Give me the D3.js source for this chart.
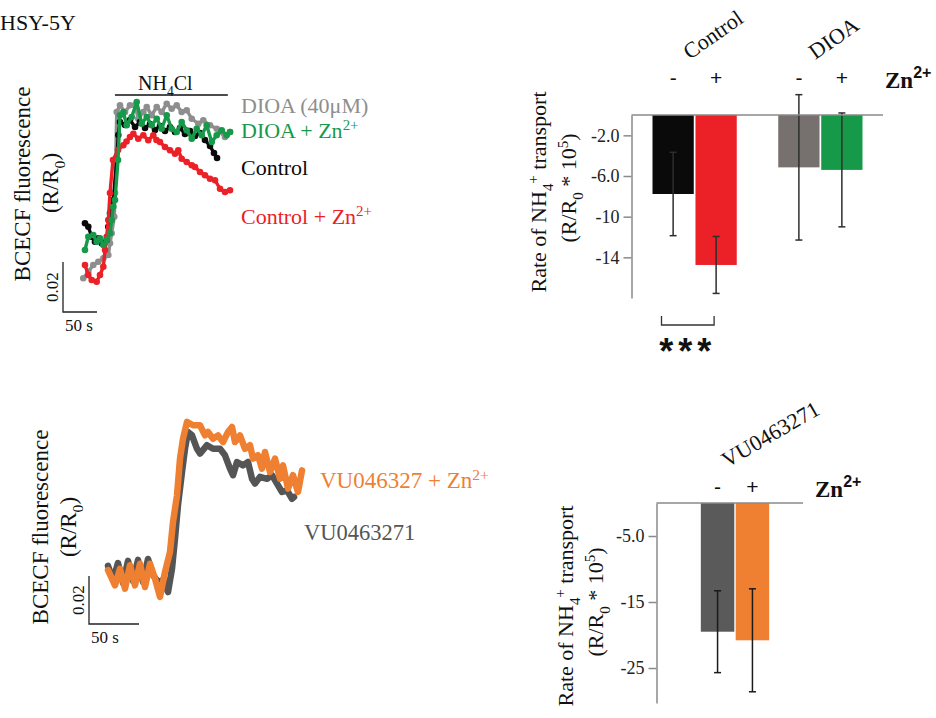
<!DOCTYPE html>
<html>
<head>
<meta charset="utf-8">
<script src="https://cdn.jsdelivr.net/npm/d3@7"></script>
<style>
    body { margin: 0; background: #fff; }
    svg { display: block; font-family: "Liberation Serif", "Times New Roman", serif; }
</style>
</head>
<body>
<div id="main"></div>
<script>
// ---- traces, top panel: [time (s), R/R0] ----
const controlTrace = [
    [2.9, 1.0239], [7.8, 1.0225], [12.8, 1.0185], [17.6, 1.0165], [22.5, 1.0179], [27.5, 1.0159],
    [34.9, 1.0172], [37.2, 1.0225], [39.7, 1.0279], [44.6, 1.0332], [49.6, 1.0492], [51.9, 1.0592],
    [54.4, 1.0644], [61.8, 1.0632], [69.1, 1.0652], [76.5, 1.0624], [83.8, 1.0644], [91.2, 1.0620],
    [98.5, 1.0636], [105.9, 1.0612], [113.2, 1.0628], [120.6, 1.0608], [127.9, 1.0624], [135.3, 1.0604],
    [142.6, 1.0620], [150.0, 1.0596], [157.4, 1.0608], [164.7, 1.0588], [172.1, 1.0600], [179.4, 1.0572],
    [186.8, 1.0548], [192.6, 1.0520], [197.1, 1.0500]
];
const controlZnTrace = [
    [2.9, 1.0072], [7.8, 1.0032], [12.8, 1.0012], [20.1, 1.0005], [25.0, 1.0032], [29.9, 1.0065],
    [32.4, 1.0132], [34.9, 1.0185], [37.2, 1.0252], [39.7, 1.0360], [44.1, 1.0492], [51.5, 1.0532],
    [59.3, 1.0551], [64.0, 1.0566], [69.1, 1.0584], [74.0, 1.0597], [81.3, 1.0577], [88.7, 1.0591],
    [96.0, 1.0571], [103.4, 1.0591], [108.0, 1.0572], [113.2, 1.0564], [120.6, 1.0544], [127.9, 1.0531],
    [135.3, 1.0517], [140.1, 1.0531], [145.1, 1.0497], [152.5, 1.0484], [159.9, 1.0471], [164.7, 1.0464],
    [172.1, 1.0444], [179.4, 1.0431], [186.8, 1.0417], [194.1, 1.0411], [201.5, 1.0377], [208.8, 1.0364],
    [216.2, 1.0371]
];
const dioaTrace = [
    [0.4, 1.0019], [7.8, 1.0045], [15.1, 1.0072], [22.5, 1.0085], [29.9, 1.0099], [37.2, 1.0112],
    [39.7, 1.0159], [42.2, 1.0199], [46.0, 1.0265], [47.1, 1.0360], [49.6, 1.0684], [54.4, 1.0711],
    [61.8, 1.0684], [69.1, 1.0711], [76.5, 1.0711], [81.3, 1.0657], [88.7, 1.0684], [93.7, 1.0704],
    [101.0, 1.0671], [108.4, 1.0704], [115.7, 1.0684], [123.1, 1.0717], [130.4, 1.0697], [137.8, 1.0711],
    [145.1, 1.0684], [152.5, 1.0691], [159.9, 1.0657], [169.6, 1.0637], [176.9, 1.0651], [186.8, 1.0631],
    [196.6, 1.0617], [208.8, 1.0584], [216.2, 1.0604]
];
const dioaZnTrace = [
    [2.9, 1.0132], [7.8, 1.0185], [15.1, 1.0192], [20.1, 1.0165], [25.0, 1.0179], [29.9, 1.0152],
    [34.9, 1.0172], [39.7, 1.0199], [42.2, 1.0252], [44.6, 1.0305], [47.1, 1.0332], [51.5, 1.0492],
    [54.4, 1.0671], [59.3, 1.0684], [64.3, 1.0631], [71.6, 1.0664], [79.0, 1.0724], [86.3, 1.0637],
    [93.7, 1.0664], [101.0, 1.0631], [108.4, 1.0657], [115.7, 1.0617], [123.1, 1.0671], [130.4, 1.0617],
    [137.8, 1.0604], [145.1, 1.0644], [152.5, 1.0611], [159.9, 1.0577], [167.2, 1.0617], [174.6, 1.0591],
    [181.9, 1.0631], [189.3, 1.0564], [196.6, 1.0591], [204.0, 1.0611], [211.3, 1.0591], [216.2, 1.0604]
];
const nh4Span = [47, 213];

// ---- traces, bottom panel ----
const vuTrace = [
    [0, 1.0142], [5, 1.0083], [10, 1.0154], [15, 1.0071], [20, 1.0163], [25, 1.0079], [30, 1.0167],
    [35, 1.0075], [40, 1.0171], [45, 1.0104], [50, 1.0075], [55, 1.0083], [60, 1.0033], [64, 1.0130],
    [67, 1.0255], [70, 1.0395], [74, 1.0533], [77, 1.0630], [80, 1.0700], [84, 1.0686], [89, 1.0630],
    [92, 1.0610], [99, 1.0645], [105, 1.0630], [112, 1.0630], [117, 1.0603], [122, 1.0547], [125, 1.0520],
    [129, 1.0575], [135, 1.0561], [140, 1.0575], [144, 1.0505], [147, 1.0485], [152, 1.0513], [159, 1.0505],
    [164, 1.0520], [169, 1.0485], [174, 1.0450], [179, 1.0457], [184, 1.0422], [186, 1.0429]
];
const vuZnTrace = [
    [0, 1.0124], [7, 1.0061], [12, 1.0130], [17, 1.0047], [22, 1.0145], [27, 1.0061], [32, 1.0151],
    [37, 1.0054], [42, 1.0151], [47, 1.0089], [52, 1.0013], [57, 1.0117], [62, 1.0200], [65, 1.0325],
    [69, 1.0436], [72, 1.0589], [75, 1.0672], [79, 1.0742], [85, 1.0728], [92, 1.0728], [97, 1.0686],
    [100, 1.0700], [105, 1.0672], [110, 1.0686], [115, 1.0658], [120, 1.0700], [124, 1.0721], [127, 1.0658],
    [132, 1.0686], [137, 1.0630], [142, 1.0645], [145, 1.0589], [150, 1.0603], [154, 1.0547], [157, 1.0617],
    [162, 1.0533], [167, 1.0589], [172, 1.0505], [175, 1.0561], [180, 1.0464], [185, 1.0520], [190, 1.0450],
    [194, 1.0540]
];

// ---- bar charts ----
const topGroups = ["Control", "DIOA"];
const znLevels = ["-", "+"];
const topMeans = [-7.77, -14.75, -5.15, -5.4];
const topErrors = [4.1, 2.8, 7.15, 5.6];
const topTicks = [-2, -6, -10, -14];
const topTickLabels = ["-2.0", "-6.0", "-10", "-14"];

const bottomGroups = ["VU0463271"];
const bottomMeans = [-19.5, -20.8];
const bottomErrors = [6.2, 7.8];
const bottomTicks = [-5, -15, -25];
const bottomTickLabels = ["-5.0", "-15", "-25"];

const topColors = ["#0a0a0a", "#ec2027", "#76716f", "#17994a"];
const bottomColors = ["#5a5a5a", "#ef7f31"];

const serif = "Liberation Serif, Times New Roman, serif";
const sans = "Liberation Sans, Arial, sans-serif";

const svg = d3.select("#main").append("svg")
    .attr("width", 936)
    .attr("height", 718);

// text with sub/superscripts, parts = [[string, "sub"|"sup"|null], ...]
function rich(sel, parts, size) {
    let shift = 0;
    parts.forEach(([s, kind]) => {
        const target = kind === "sub" ? size * 0.3 : kind === "sup" ? -size * 0.36 : 0;
        const t = sel.append("tspan").attr("dy", target - shift).text(s);
        if (kind) t.style("font-size", (size * 0.68) + "px");
        shift = target;
    });
    return sel;
}

function label(x, y, size, color, parts, rotate) {
    const t = svg.append("text")
        .attr("x", x).attr("y", y)
        .attr("font-family", serif)
        .style("font-size", size + "px")
        .attr("fill", color);
    if (rotate) t.attr("transform", `rotate(${rotate},${x},${y})`).attr("text-anchor", "middle");
    return rich(t, parts, size);
}

function drawTrace(x, y, data, color, width, dots) {
    const line = d3.line().x(d => x(d[0])).y(d => y(d[1]));
    svg.append("path")
        .datum(data)
        .attr("d", line)
        .attr("fill", "none")
        .attr("stroke", color)
        .attr("stroke-width", width)
        .attr("stroke-linejoin", "round")
        .attr("stroke-linecap", "round");
    if (dots) {
        svg.append("g").selectAll("circle")
            .data(data)
            .join("circle")
            .attr("cx", d => x(d[0]))
            .attr("cy", d => y(d[1]))
            .attr("r", 3.3)
            .attr("fill", color);
    }
}

function scaleBar(x, y, ox, oy) {
    const w = x(50) - x(0);
    const h = y(1) - y(1.02);
    svg.append("path")
        .attr("d", `M${ox},${oy - h}V${oy}H${ox + w}`)
        .attr("fill", "none")
        .attr("stroke", "#222")
        .attr("stroke-width", 1.3);
    label(ox - 5, oy - h / 2, 17, "#111", [["0.02", null]], -90);
    label(ox + 2, oy + 19, 17, "#111", [["50 s", null]]);
}

// ---- top-left traces ----
{
    const x = d3.scaleLinear().domain([0, 50]).range([83, 117]);
    const y = d3.scaleLinear().domain([1, 1.02]).range([283, 233]);

    drawTrace(x, y, dioaTrace, "#8e8e8e", 3.4, true);
    drawTrace(x, y, controlTrace, "#0a0a0a", 3.4, true);
    drawTrace(x, y, controlZnTrace, "#ec2027", 3.4, true);
    drawTrace(x, y, dioaZnTrace, "#17994a", 3.4, true);

    svg.append("line")
        .attr("x1", x(nh4Span[0])).attr("x2", x(nh4Span[1]))
        .attr("y1", 95).attr("y2", 95)
        .attr("stroke", "#111").attr("stroke-width", 1.5);
    label(138, 90, 20, "#111", [["NH", null], ["4", "sub"], ["Cl", null]]);

    scaleBar(x, y, 63, 312);

    label(0, 30, 22, "#111", [["HSY-5Y", null]]);
    label(30, 184, 23, "#111", [["BCECF fluorescence", null]], -90);
    label(58, 183, 23, "#111", [["(R/R", null], ["0", "sub"], [")", null]], -90);

    label(241, 113, 22, "#8e8e8e", [["DIOA (40μM)", null]]);
    label(241, 138, 22, "#17994a", [["DIOA + Zn", null], ["2+", "sup"]]);
    label(241, 175, 22, "#0a0a0a", [["Control", null]]);
    label(241, 224, 22, "#ec2027", [["Control + Zn", null], ["2+", "sup"]]);
}

// ---- bottom-left traces ----
{
    const x = d3.scaleLinear().domain([0, 50]).range([108, 158]);
    const y = d3.scaleLinear().domain([1, 1.02]).range([600, 552]);

    drawTrace(x, y, vuTrace, "#555555", 6.5, false);
    drawTrace(x, y, vuZnTrace, "#ef7f31", 6.5, false);

    scaleBar(x, y, 89, 624);

    label(48, 527, 23, "#111", [["BCECF fluorescence", null]], -90);
    label(76, 527, 23, "#111", [["(R/R", null], ["0", "sub"], [")", null]], -90);

    label(320, 488, 23, "#ef7f31", [["VU046327 + Zn", null], ["2+", "sup"]]);
    label(304, 540, 22.5, "#555555", [["VU0463271", null]]);
}

// ---- bar charts ----
function barChart(o) {
    const y = d3.scaleLinear().domain(o.yDomain).range(o.yRange);
    const outer = d3.scaleBand().domain(o.groups).range(o.xRange).paddingInner(0.33);
    const inner = d3.scaleBand().domain(znLevels).range([0, outer.bandwidth()]).paddingInner(0.04);
    const bars = o.means.map((m, i) => ({
        group: o.groups[Math.floor(i / 2)],
        level: znLevels[i % 2],
        mean: m,
        err: o.errors[i],
        color: o.colors[i]
    }));
    const cx = d => outer(d.group) + inner(d.level) + inner.bandwidth() / 2;

    svg.append("g")
        .selectAll("rect")
        .data(bars)
        .join("rect")
        .attr("x", d => outer(d.group) + inner(d.level))
        .attr("y", y(0))
        .attr("width", inner.bandwidth())
        .attr("height", d => y(d.mean) - y(0))
        .attr("fill", d => d.color);

    // error bars
    const eb = svg.append("g").attr("stroke", o.errColor).attr("stroke-width", 1.5);
    bars.forEach(d => {
        const x0 = cx(d);
        eb.append("line").attr("x1", x0).attr("x2", x0)
            .attr("y1", y(d.mean + d.err)).attr("y2", y(d.mean - d.err));
        [d.mean + d.err, d.mean - d.err].forEach(v => {
            eb.append("line").attr("x1", x0 - 3.5).attr("x2", x0 + 3.5)
                .attr("y1", y(v)).attr("y2", y(v));
        });
    });

    // axis
    const ax = svg.append("g")
        .attr("transform", `translate(${o.axisX},0)`)
        .call(d3.axisLeft(y).tickValues(o.ticks).tickFormat((d, i) => o.tickLabels[i])
            .tickSize(8).tickSizeOuter(0).tickPadding(4));
    ax.selectAll("path, line").attr("stroke", "#8a8a8a").attr("stroke-width", 1.5);
    ax.selectAll("text")
        .attr("font-family", serif)
        .style("font-size", "18px")
        .attr("fill", "#222");

    svg.append("line")
        .attr("x1", o.axisX).attr("x2", o.baseEnd)
        .attr("y1", y(0)).attr("y2", y(0))
        .attr("stroke", "#8a8a8a").attr("stroke-width", 1.5);

    // group names and Zn2+ signs
    o.groups.forEach(gname => {
        const gx = outer(gname) + outer.bandwidth() / 2 - o.nameDx;
        svg.append("text")
            .attr("x", gx).attr("y", o.nameY)
            .attr("transform", `rotate(${o.nameAngle},${gx},${o.nameY})`)
            .attr("font-family", serif)
            .style("font-size", "22px")
            .attr("fill", "#111")
            .text(gname);
    });
    svg.append("g").selectAll("text")
        .data(bars)
        .join("text")
        .attr("x", d => cx(d))
        .attr("y", o.signY)
        .attr("text-anchor", "middle")
        .attr("font-family", sans)
        .style("font-size", "21px")
        .attr("fill", "#111")
        .text(d => d.level);

    const zn = svg.append("text")
        .attr("x", o.znX).attr("y", o.signY + 3)
        .attr("font-family", serif)
        .attr("font-weight", "bold")
        .style("font-size", "23px")
        .attr("fill", "#111");
    zn.append("tspan").text("Zn");
    zn.append("tspan").attr("dy", -10).attr("font-family", sans)
        .style("font-size", "16px").text("2+");

    label(o.labX, o.labY, 22, "#111", [["Rate of NH", null], ["4", "sub"], ["+", "sup"], [" transport", null]], -90);
    label(o.labX + 30, o.labY - 4, 22, "#111",
        [["(R/R", null], ["0", "sub"], [" * 10", null], ["5", "sup"], [")", null]], -90);

    return { y, outer, inner, cx, bars };
}

const topChart = barChart({
    groups: topGroups, means: topMeans, errors: topErrors, colors: topColors,
    yDomain: [0, -18], yRange: [115, 298], xRange: [652.5, 862.5],
    ticks: topTicks, tickLabels: topTickLabels,
    axisX: 631.5, baseEnd: 883, errColor: "#2e2e2e",
    nameY: 60, nameDx: 5, nameAngle: -35, signY: 85, znX: 885,
    labX: 546, labY: 192
});

// significance bracket
{
    const xa = topChart.outer("Control") + 9;
    const xb = topChart.cx(topChart.bars[1]) - 2;
    svg.append("path")
        .attr("d", `M${xa},316V325H${xb}V316`)
        .attr("fill", "none")
        .attr("stroke", "#333")
        .attr("stroke-width", 1.3);
    svg.append("text")
        .attr("x", (xa + xb) / 2)
        .attr("y", 364)
        .attr("text-anchor", "middle")
        .attr("font-family", sans)
        .attr("font-weight", "bold")
        .style("font-size", "36px")
        .attr("letter-spacing", "5px")
        .attr("fill", "#111")
        .text("***");
}

barChart({
    groups: bottomGroups, means: bottomMeans, errors: bottomErrors, colors: bottomColors,
    yDomain: [0, -30.3], yRange: [503, 703], xRange: [684, 786],
    ticks: bottomTicks, tickLabels: bottomTickLabels,
    axisX: 656.5, baseEnd: 803, errColor: "#1a1a1a",
    nameY: 468, nameDx: 8, nameAngle: -30, signY: 494, znX: 815,
    labX: 573, labY: 606
});
</script>
</body>
</html>
